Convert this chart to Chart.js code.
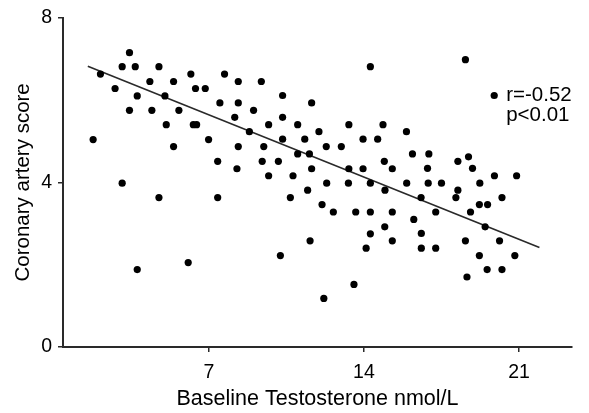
<!DOCTYPE html>
<html lang="en">
<head>
    <meta charset="UTF-8">
    <title>Testosterone vs Coronary artery score</title>
    <script src="https://cdn.jsdelivr.net/npm/chart.js"></script>
    <style>
        html, body { margin: 0; padding: 0; background: #fff; }
        #wrap { width: 589px; height: 413px; }
    </style>
</head>
<body>
    <div id="wrap">
        <canvas id="scatterChart" width="589" height="413"></canvas>
    </div>

    <script>
        // values
        const testosterone = [
            2.11, 2.77, 3.42, 3.09, 3.68, 3.77, 3.42, 1.78, 4.34, 4.75, 4.43, 5.02, 5.41, 5.65, 5.08,
            5.41, 6.19, 6.40, 6.84, 6.30, 6.45, 6.99, 7.50, 7.71, 7.40, 8.17, 8.27, 8.33, 8.33, 8.33,
            3.09, 4.75, 7.40, 3.77, 6.07,
            9.37, 14.29, 10.33, 11.64, 9.02, 10.33, 9.70, 11.01, 13.32, 14.86, 8.83, 11.97, 15.92, 10.33,
            11.33, 13.96, 14.62, 9.48, 12.30, 12.98, 11.01, 11.54, 9.41, 10.14, 14.92, 11.64, 13.32, 13.96,
            15.28, 9.70, 10.80,
            16.19,
            12.32, 13.30, 14.29, 15.93, 11.46, 14.95, 10.68, 12.11, 12.62, 13.63, 14.29, 15.28, 14.94,
            14.29, 11.57, 15.28, 14.10, 10.23, 13.55, 12.19,
            18.58, 19.88, 16.93, 16.87, 18.24, 18.72, 18.90, 19.89, 20.89,
            16.90, 17.50, 19.23, 18.24, 18.15, 16.58, 20.23, 19.21, 19.58, 17.24, 18.81, 16.25, 19.47,
            16.59, 18.58, 20.12, 16.59, 17.24, 19.21, 20.81, 19.56, 20.23, 18.65
        ];
        const coronaryScore = [
            6.63, 6.28, 7.15, 6.81, 6.81, 6.10, 5.75, 5.04, 6.45, 6.81, 5.75, 6.10, 6.45, 5.75, 5.40,
            4.87, 6.63, 6.28, 6.28, 5.40, 5.40, 5.04, 5.93, 6.63, 4.51, 5.58, 4.33, 6.45, 5.93, 4.87,
            3.98, 3.63, 3.63, 1.88, 2.05,
            6.45, 6.81, 6.11, 5.93, 5.75, 5.58, 5.40, 5.40, 5.40, 5.40, 5.23, 5.23, 5.23, 5.05,
            5.05, 5.05, 5.05, 4.87, 4.87, 4.87, 4.69, 4.69, 4.51, 4.51, 4.51, 4.33, 4.33, 4.33,
            4.33, 4.16, 4.16,
            4.69,
            3.98, 3.98, 3.98, 3.98, 3.81, 3.81, 3.63, 3.46, 3.28, 3.28, 3.28, 3.28, 2.92,
            2.75, 2.58, 2.58, 2.40, 2.22, 1.52, 1.18,
            6.98, 6.11, 4.69, 4.34, 4.51, 4.62, 4.34, 4.16, 4.16,
            3.98, 3.98, 3.98, 3.81, 3.63, 3.63, 3.63, 3.46, 3.46, 3.28, 3.28, 3.10, 2.92,
            2.76, 2.58, 2.58, 2.40, 2.40, 2.22, 2.22, 1.88, 1.88, 1.70
        ];

        // fitted line end points
        const fitX = [1.54, 21.92];
        const fitY = [6.82, 2.42];

        const xTicks = [7, 14, 21];
        const yTicks = [0, 4, 8];
        const statsText = ['r=-0.52', 'p<0.01'];

        const FONT = '"Liberation Sans", Arial, Helvetica, sans-serif';
        const INK = '#000';
        const AXIS = '#2a2a2a';

        const points = testosterone.map((t, i) => ({ x: t, y: coronaryScore[i] }));
        const fitLine = fitX.map((t, i) => ({ x: t, y: fitY[i] }));

        // r / p text next to the point cloud
        const statsLabel = {
            id: 'statsLabel',
            afterDatasetsDraw(chart) {
                const { ctx, scales } = chart;
                const x = scales.x.getPixelForValue(20.42);
                ctx.save();
                ctx.font = '20.5px ' + FONT;
                ctx.fillStyle = INK;
                ctx.textAlign = 'left';
                ctx.textBaseline = 'alphabetic';
                ctx.fillText(statsText[0], x, scales.y.getPixelForValue(5.97));
                ctx.fillText(statsText[1], x, scales.y.getPixelForValue(5.49));
                ctx.restore();
            }
        };

        const ctx = document.getElementById('scatterChart').getContext('2d');
        const chart = new Chart(ctx, {
            type: 'scatter',
            data: {
                datasets: [
                    {
                        label: 'Patients',
                        data: points,
                        pointRadius: 3.6,
                        pointBackgroundColor: INK,
                        pointBorderWidth: 0,
                        pointHoverRadius: 3.6,
                    },
                    {
                        type: 'line',
                        label: 'Fit',
                        data: fitLine,
                        borderColor: AXIS,
                        borderWidth: 1.6,
                        pointRadius: 0,
                        fill: false,
                    },
                ],
            },
            options: {
                responsive: false,
                animation: false,
                events: [],
                layout: {
                    padding: { left: 0, right: 17, top: 16, bottom: 0 },
                },
                plugins: {
                    legend: { display: false },
                    tooltip: { enabled: false },
                },
                scales: {
                    x: {
                        type: 'linear',
                        min: 0.42,
                        max: 23.39,
                        afterBuildTicks: (scale) => {
                            scale.ticks = xTicks.map(v => ({ value: v }));
                        },
                        afterFit: (scale) => { scale.height = 66; },
                        border: { display: true, color: AXIS, width: 2 },
                        grid: { drawOnChartArea: false, drawTicks: true, tickLength: 5, color: AXIS, lineWidth: 1.5 },
                        ticks: { color: INK, padding: 9, font: { family: FONT, size: 19.5 } },
                        title: {
                            display: true,
                            text: 'Baseline Testosterone nmol/L',
                            color: INK,
                            font: { family: FONT, size: 21.5 },
                            padding: { top: 0, bottom: 1 },
                        },
                    },
                    y: {
                        type: 'linear',
                        min: 0,
                        max: 8,
                        afterBuildTicks: (scale) => {
                            scale.ticks = yTicks.map(v => ({ value: v }));
                        },
                        afterFit: (scale) => { scale.width = 63; },
                        border: { display: true, color: AXIS, width: 2 },
                        grid: { drawOnChartArea: false, drawTicks: true, tickLength: 5, color: AXIS, lineWidth: 1.5 },
                        ticks: { color: INK, padding: 6, font: { family: FONT, size: 19.5 } },
                        title: {
                            display: true,
                            text: 'Coronary artery score',
                            color: INK,
                            font: { family: FONT, size: 20.5 },
                            padding: { top: 11, bottom: 0 },
                        },
                    },
                },
            },
            plugins: [statsLabel],
        });
    </script>
</body>
</html>
